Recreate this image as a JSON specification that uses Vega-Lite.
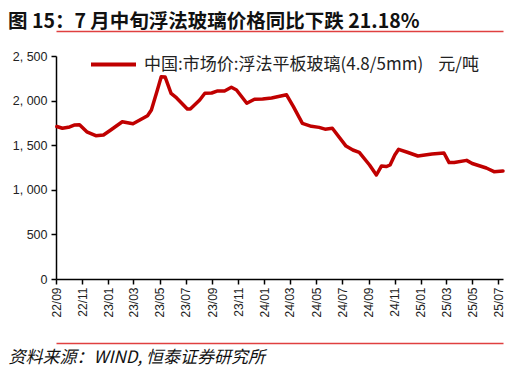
{
  "$schema": "https://vega.github.io/schema/vega-lite/v6.json",
  "width": 447,
  "height": 223,
  "autosize": "none",
  "padding": {"left": 56, "top": 56, "right": 11, "bottom": 95},
  "background": "white",
  "title": {
    "text": "图 15：7 月中旬浮法玻璃价格同比下跌 21.18%",
    "anchor": "start",
    "frame": "group",
    "dx": -48,
    "offset": -1,
    "font": "Noto Sans CJK SC",
    "fontSize": 19.5,
    "fontWeight": "bold",
    "color": "#111111"
  },
  "data": {
    "values": [
      {"date": "2022-09-03", "value": 1710, "series": "中国:市场价:浮法平板玻璃(4.8/5mm)\u00a0\u00a0\u00a0\u00a0元/吨"},
      {"date": "2022-09-16", "value": 1690, "series": "中国:市场价:浮法平板玻璃(4.8/5mm)\u00a0\u00a0\u00a0\u00a0元/吨"},
      {"date": "2022-10-03", "value": 1705, "series": "中国:市场价:浮法平板玻璃(4.8/5mm)\u00a0\u00a0\u00a0\u00a0元/吨"},
      {"date": "2022-10-15", "value": 1727, "series": "中国:市场价:浮法平板玻璃(4.8/5mm)\u00a0\u00a0\u00a0\u00a0元/吨"},
      {"date": "2022-10-26", "value": 1730, "series": "中国:市场价:浮法平板玻璃(4.8/5mm)\u00a0\u00a0\u00a0\u00a0元/吨"},
      {"date": "2022-11-12", "value": 1650, "series": "中国:市场价:浮法平板玻璃(4.8/5mm)\u00a0\u00a0\u00a0\u00a0元/吨"},
      {"date": "2022-12-03", "value": 1607, "series": "中国:市场价:浮法平板玻璃(4.8/5mm)\u00a0\u00a0\u00a0\u00a0元/吨"},
      {"date": "2022-12-21", "value": 1614, "series": "中国:市场价:浮法平板玻璃(4.8/5mm)\u00a0\u00a0\u00a0\u00a0元/吨"},
      {"date": "2023-01-07", "value": 1670, "series": "中国:市场价:浮法平板玻璃(4.8/5mm)\u00a0\u00a0\u00a0\u00a0元/吨"},
      {"date": "2023-02-03", "value": 1763, "series": "中国:市场价:浮法平板玻璃(4.8/5mm)\u00a0\u00a0\u00a0\u00a0元/吨"},
      {"date": "2023-02-28", "value": 1740, "series": "中国:市场价:浮法平板玻璃(4.8/5mm)\u00a0\u00a0\u00a0\u00a0元/吨"},
      {"date": "2023-04-03", "value": 1830, "series": "中国:市场价:浮法平板玻璃(4.8/5mm)\u00a0\u00a0\u00a0\u00a0元/吨"},
      {"date": "2023-04-12", "value": 1895, "series": "中国:市场价:浮法平板玻璃(4.8/5mm)\u00a0\u00a0\u00a0\u00a0元/吨"},
      {"date": "2023-04-26", "value": 2119, "series": "中国:市场价:浮法平板玻璃(4.8/5mm)\u00a0\u00a0\u00a0\u00a0元/吨"},
      {"date": "2023-05-05", "value": 2268, "series": "中国:市场价:浮法平板玻璃(4.8/5mm)\u00a0\u00a0\u00a0\u00a0元/吨"},
      {"date": "2023-05-14", "value": 2265, "series": "中国:市场价:浮法平板玻璃(4.8/5mm)\u00a0\u00a0\u00a0\u00a0元/吨"},
      {"date": "2023-05-28", "value": 2082, "series": "中国:市场价:浮法平板玻璃(4.8/5mm)\u00a0\u00a0\u00a0\u00a0元/吨"},
      {"date": "2023-06-10", "value": 2030, "series": "中国:市场价:浮法平板玻璃(4.8/5mm)\u00a0\u00a0\u00a0\u00a0元/吨"},
      {"date": "2023-07-05", "value": 1906, "series": "中国:市场价:浮法平板玻璃(4.8/5mm)\u00a0\u00a0\u00a0\u00a0元/吨"},
      {"date": "2023-07-12", "value": 1906, "series": "中国:市场价:浮法平板玻璃(4.8/5mm)\u00a0\u00a0\u00a0\u00a0元/吨"},
      {"date": "2023-08-03", "value": 2007, "series": "中国:市场价:浮法平板玻璃(4.8/5mm)\u00a0\u00a0\u00a0\u00a0元/吨"},
      {"date": "2023-08-15", "value": 2082, "series": "中国:市场价:浮法平板玻璃(4.8/5mm)\u00a0\u00a0\u00a0\u00a0元/吨"},
      {"date": "2023-08-31", "value": 2085, "series": "中国:市场价:浮法平板玻璃(4.8/5mm)\u00a0\u00a0\u00a0\u00a0元/吨"},
      {"date": "2023-09-14", "value": 2108, "series": "中国:市场价:浮法平板玻璃(4.8/5mm)\u00a0\u00a0\u00a0\u00a0元/吨"},
      {"date": "2023-09-30", "value": 2108, "series": "中国:市场价:浮法平板玻璃(4.8/5mm)\u00a0\u00a0\u00a0\u00a0元/吨"},
      {"date": "2023-10-16", "value": 2149, "series": "中国:市场价:浮法平板玻璃(4.8/5mm)\u00a0\u00a0\u00a0\u00a0元/吨"},
      {"date": "2023-10-28", "value": 2119, "series": "中国:市场价:浮法平板玻璃(4.8/5mm)\u00a0\u00a0\u00a0\u00a0元/吨"},
      {"date": "2023-11-21", "value": 1970, "series": "中国:市场价:浮法平板玻璃(4.8/5mm)\u00a0\u00a0\u00a0\u00a0元/吨"},
      {"date": "2023-12-09", "value": 2015, "series": "中国:市场价:浮法平板玻璃(4.8/5mm)\u00a0\u00a0\u00a0\u00a0元/吨"},
      {"date": "2023-12-28", "value": 2018, "series": "中国:市场价:浮法平板玻璃(4.8/5mm)\u00a0\u00a0\u00a0\u00a0元/吨"},
      {"date": "2024-01-18", "value": 2030, "series": "中国:市场价:浮法平板玻璃(4.8/5mm)\u00a0\u00a0\u00a0\u00a0元/吨"},
      {"date": "2024-02-22", "value": 2065, "series": "中国:市场价:浮法平板玻璃(4.8/5mm)\u00a0\u00a0\u00a0\u00a0元/吨"},
      {"date": "2024-03-09", "value": 1932, "series": "中国:市场价:浮法平板玻璃(4.8/5mm)\u00a0\u00a0\u00a0\u00a0元/吨"},
      {"date": "2024-03-30", "value": 1745, "series": "中国:市场价:浮法平板玻璃(4.8/5mm)\u00a0\u00a0\u00a0\u00a0元/吨"},
      {"date": "2024-04-20", "value": 1712, "series": "中国:市场价:浮法平板玻璃(4.8/5mm)\u00a0\u00a0\u00a0\u00a0元/吨"},
      {"date": "2024-05-08", "value": 1700, "series": "中国:市场价:浮法平板玻璃(4.8/5mm)\u00a0\u00a0\u00a0\u00a0元/吨"},
      {"date": "2024-05-22", "value": 1680, "series": "中国:市场价:浮法平板玻璃(4.8/5mm)\u00a0\u00a0\u00a0\u00a0元/吨"},
      {"date": "2024-06-08", "value": 1690, "series": "中国:市场价:浮法平板玻璃(4.8/5mm)\u00a0\u00a0\u00a0\u00a0元/吨"},
      {"date": "2024-07-10", "value": 1490, "series": "中国:市场价:浮法平板玻璃(4.8/5mm)\u00a0\u00a0\u00a0\u00a0元/吨"},
      {"date": "2024-07-26", "value": 1446, "series": "中国:市场价:浮法平板玻璃(4.8/5mm)\u00a0\u00a0\u00a0\u00a0元/吨"},
      {"date": "2024-08-10", "value": 1420, "series": "中国:市场价:浮法平板玻璃(4.8/5mm)\u00a0\u00a0\u00a0\u00a0元/吨"},
      {"date": "2024-09-03", "value": 1278, "series": "中国:市场价:浮法平板玻璃(4.8/5mm)\u00a0\u00a0\u00a0\u00a0元/吨"},
      {"date": "2024-09-19", "value": 1166, "series": "中国:市场价:浮法平板玻璃(4.8/5mm)\u00a0\u00a0\u00a0\u00a0元/吨"},
      {"date": "2024-10-01", "value": 1267, "series": "中国:市场价:浮法平板玻璃(4.8/5mm)\u00a0\u00a0\u00a0\u00a0元/吨"},
      {"date": "2024-10-12", "value": 1260, "series": "中国:市场价:浮法平板玻璃(4.8/5mm)\u00a0\u00a0\u00a0\u00a0元/吨"},
      {"date": "2024-10-21", "value": 1278, "series": "中国:市场价:浮法平板玻璃(4.8/5mm)\u00a0\u00a0\u00a0\u00a0元/吨"},
      {"date": "2024-11-01", "value": 1390, "series": "中国:市场价:浮法平板玻璃(4.8/5mm)\u00a0\u00a0\u00a0\u00a0元/吨"},
      {"date": "2024-11-10", "value": 1454, "series": "中国:市场价:浮法平板玻璃(4.8/5mm)\u00a0\u00a0\u00a0\u00a0元/吨"},
      {"date": "2024-12-02", "value": 1418, "series": "中国:市场价:浮法平板玻璃(4.8/5mm)\u00a0\u00a0\u00a0\u00a0元/吨"},
      {"date": "2024-12-25", "value": 1379, "series": "中国:市场价:浮法平板玻璃(4.8/5mm)\u00a0\u00a0\u00a0\u00a0元/吨"},
      {"date": "2025-01-27", "value": 1401, "series": "中国:市场价:浮法平板玻璃(4.8/5mm)\u00a0\u00a0\u00a0\u00a0元/吨"},
      {"date": "2025-02-24", "value": 1413, "series": "中国:市场价:浮法平板玻璃(4.8/5mm)\u00a0\u00a0\u00a0\u00a0元/吨"},
      {"date": "2025-03-08", "value": 1305, "series": "中国:市场价:浮法平板玻璃(4.8/5mm)\u00a0\u00a0\u00a0\u00a0元/吨"},
      {"date": "2025-03-20", "value": 1305, "series": "中国:市场价:浮法平板玻璃(4.8/5mm)\u00a0\u00a0\u00a0\u00a0元/吨"},
      {"date": "2025-04-18", "value": 1330, "series": "中国:市场价:浮法平板玻璃(4.8/5mm)\u00a0\u00a0\u00a0\u00a0元/吨"},
      {"date": "2025-05-01", "value": 1295, "series": "中国:市场价:浮法平板玻璃(4.8/5mm)\u00a0\u00a0\u00a0\u00a0元/吨"},
      {"date": "2025-06-03", "value": 1244, "series": "中国:市场价:浮法平板玻璃(4.8/5mm)\u00a0\u00a0\u00a0\u00a0元/吨"},
      {"date": "2025-06-21", "value": 1203, "series": "中国:市场价:浮法平板玻璃(4.8/5mm)\u00a0\u00a0\u00a0\u00a0元/吨"},
      {"date": "2025-07-12", "value": 1212, "series": "中国:市场价:浮法平板玻璃(4.8/5mm)\u00a0\u00a0\u00a0\u00a0元/吨"}
    ]
  },
  "layer": [
    {
      "mark": {"type": "line", "strokeOpacity": 0},
      "encoding": {
        "x": {
          "field": "date",
          "type": "temporal",
          "scale": {
            "type": "utc",
            "domain": [
              {"year": 2022, "month": 9, "date": 1, "utc": true},
              {"year": 2025, "month": 7, "date": 12, "utc": true}
            ]
          },
          "axis": {
            "orient": "top",
            "offset": 25,
            "title": null,
            "labels": false,
            "ticks": false,
            "grid": false,
            "domainColor": "#E04040",
            "domainWidth": 1.5
          }
        },
        "y": {"field": "value", "type": "quantitative", "scale": {"domain": [0, 2500], "nice": false}}
      }
    },
    {
      "mark": {"type": "line", "strokeOpacity": 0},
      "encoding": {
        "x": {
          "field": "date",
          "type": "temporal",
          "axis": {
            "orient": "bottom",
            "offset": 64,
            "title": null,
            "labels": false,
            "ticks": false,
            "grid": false,
            "domainColor": "#E04040",
            "domainWidth": 1.5
          }
        },
        "y": {"field": "value", "type": "quantitative", "scale": {"domain": [0, 2500], "nice": false}}
      }
    },
    {
      "mark": {"type": "line", "strokeWidth": 3.5, "strokeJoin": "round", "strokeCap": "round"},
      "encoding": {
        "x": {
          "field": "date",
          "type": "temporal",
          "axis": {
            "title": "资料来源：WIND, 恒泰证券研究所",
            "titleAnchor": "start",
            "titleAlign": "left",
            "titleX": -48,
            "titleY": 78,
            "titleBaseline": "middle",
            "titleFont": "Noto Sans CJK SC",
            "titleFontSize": 17,
            "titleFontStyle": "italic",
            "titleFontWeight": "normal",
            "titleColor": "#111111",
            "labelExpr": "utcFormat(datum.value, '%y/%m')",
            "tickCount": {"interval": "month", "step": 2},
            "labelAngle": 270,
            "labelAlign": "right",
            "labelBaseline": "middle",
            "labelFont": "Liberation Sans",
            "labelFontSize": 12,
            "labelColor": "#222222",
            "labelPadding": 3,
            "labelOverlap": false,
            "labelFlush": false,
            "tickColor": "#000000",
            "tickSize": 5,
            "tickWidth": 1.5,
            "domainColor": "#000000",
            "domainWidth": 1.5,
            "grid": false
          }
        },
        "y": {
          "field": "value",
          "type": "quantitative",
          "scale": {"domain": [0, 2500], "nice": false},
          "axis": {
            "title": null,
            "values": [0, 500, 1000, 1500, 2000, 2500],
            "labelExpr": "replace(format(datum.value, ','), ',', ', ')",
            "labelFont": "Liberation Sans",
            "labelFontSize": 12.5,
            "labelColor": "#222222",
            "labelPadding": 4,
            "tickColor": "#000000",
            "tickSize": 5,
            "tickWidth": 1.5,
            "domainColor": "#000000",
            "domainWidth": 1.5,
            "grid": false
          }
        },
        "color": {
          "field": "series",
          "type": "nominal",
          "scale": {"range": ["#C00000"]},
          "legend": {
            "title": null,
            "orient": "none",
            "legendX": 33,
            "legendY": -16,
            "symbolType": "stroke",
            "symbolSize": 2025,
            "symbolStrokeWidth": 4,
            "labelFont": "Noto Sans CJK SC",
            "labelFontSize": 17,
            "labelColor": "#222222",
            "labelOffset": 6,
            "labelLimit": 0
          }
        }
      }
    }
  ],
  "resolve": {"axis": {"x": "independent"}},
  "config": {"view": {"stroke": null}}
}
